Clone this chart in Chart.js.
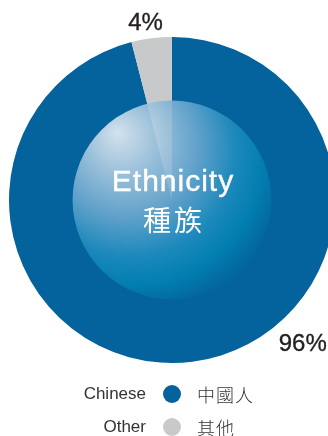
<!DOCTYPE html>
<html>
<head>
<meta charset="utf-8">
<script src="https://cdn.jsdelivr.net/npm/chart.js@4"></script>
<style>
  html, body { margin: 0; padding: 0; background: #fff; overflow: hidden; width: 328px; height: 436px; }
  #wrap { position: absolute; left: 0; top: 0; width: 344px; height: 436px; }
  .leg { position: absolute; font-family: "Liberation Sans", Arial, sans-serif; font-size: 17px; color: #333; line-height: 20px; }
  .leg .en { position: absolute; right: 182px; width: 120px; text-align: right; }
  .leg .dot { position: absolute; left: 163px; top: 1px; width: 18px; height: 18px; border-radius: 50%; }
  .leg .zh { position: absolute; left: 197px; font-family: "Noto Sans CJK TC", sans-serif; font-weight: 300; font-size: 18px; white-space: nowrap; letter-spacing: 1px; }
</style>
</head>
<body>
<div id="wrap"><canvas id="myChart" width="344" height="436"></canvas></div>
<div id="legend"></div>
<script>
const categories = ['Chinese', 'Other'];
const categoriesZh = ['中國人', '其他'];
const shares = [96, 4];
const sliceColors = ['#04629c', '#c8c9cb'];
const centerTitle = ['Ethnicity', '種族'];

// legend, built by hand (label / dot / chinese label)
const legend = document.getElementById('legend');
categories.forEach((c, i) => {
  const row = document.createElement('div');
  row.className = 'leg';
  row.style.left = '0px';
  row.style.width = '328px';
  row.style.top = (384 + i * 33) + 'px';
  row.innerHTML = '<span class="en">' + c + '</span><span class="dot" style="background:' + sliceColors[i] + '"></span><span class="zh">' + categoriesZh[i] + '</span>';
  legend.appendChild(row);
});

// text with a thin outline so it looks a bit heavier
function heavyText(ctx, txt, x, y, w) {
  ctx.lineWidth = w;
  ctx.strokeStyle = ctx.fillStyle;
  ctx.strokeText(txt, x, y);
  ctx.fillText(txt, x, y);
}

const centerPlugin = {
  id: 'centerStuff',
  afterDatasetsDraw(chart) {
    const ctx = chart.ctx;
    const arc = chart.getDatasetMeta(0).data[0];
    const cx = arc.x, cy = arc.y, R = arc.outerRadius;
    const r = R * 0.61;
    // inner glossy circle
    const g = ctx.createRadialGradient(cx - 55, cy - 68, 0, cx - 35, cy - 40, r * 1.5);
    g.addColorStop(0, '#eaf0f7');
    g.addColorStop(0.22, '#b0cde2');
    g.addColorStop(0.48, '#6ba8cf');
    g.addColorStop(0.7, '#1f8dbf');
    g.addColorStop(0.86, '#0281b2');
    g.addColorStop(1, '#03679f');
    ctx.save();
    ctx.globalAlpha = 0.9;
    ctx.beginPath();
    ctx.arc(cx, cy, r, 0, Math.PI * 2);
    ctx.fillStyle = g;
    ctx.fill();
    ctx.restore();

    ctx.save();
    ctx.fillStyle = '#fff';
    ctx.textAlign = 'center';
    ctx.textBaseline = 'middle';
    ctx.letterSpacing = '1px';
    ctx.font = '30px "Liberation Sans", Arial, sans-serif';
    heavyText(ctx, centerTitle[0], cx + 1, cy - 17, 0.4);
    ctx.letterSpacing = '3px';
    ctx.font = '400 28px "Noto Sans CJK TC", sans-serif';
    ctx.fillText(centerTitle[1], cx + 2, cy + 20);

    // percentage labels outside the ring
    ctx.letterSpacing = '0px';
    ctx.fillStyle = '#231f20';
    ctx.font = '24px "Liberation Sans", Arial, sans-serif';
    const labelAngles = [137.9, -8.5];  // degrees clockwise from top
    const labelDist = [R + 32, R + 16];
    shares.forEach((v, i) => {
      const a = labelAngles[i] * Math.PI / 180;
      heavyText(ctx, v + '%', cx + labelDist[i] * Math.sin(a), cy - labelDist[i] * Math.cos(a), 0.35);
    });
    ctx.restore();
  }
};

new Chart(document.getElementById('myChart'), {
  type: 'pie',
  data: {
    labels: categories,
    datasets: [{
      data: shares,
      backgroundColor: sliceColors,
      borderWidth: 0
    }]
  },
  options: {
    responsive: false,
    animation: false,
    layout: { padding: { left: 9, right: 9, top: 37, bottom: 73 } },
    plugins: { legend: { display: false }, tooltip: { enabled: false } }
  },
  plugins: [centerPlugin]
});
</script>
</body>
</html>
